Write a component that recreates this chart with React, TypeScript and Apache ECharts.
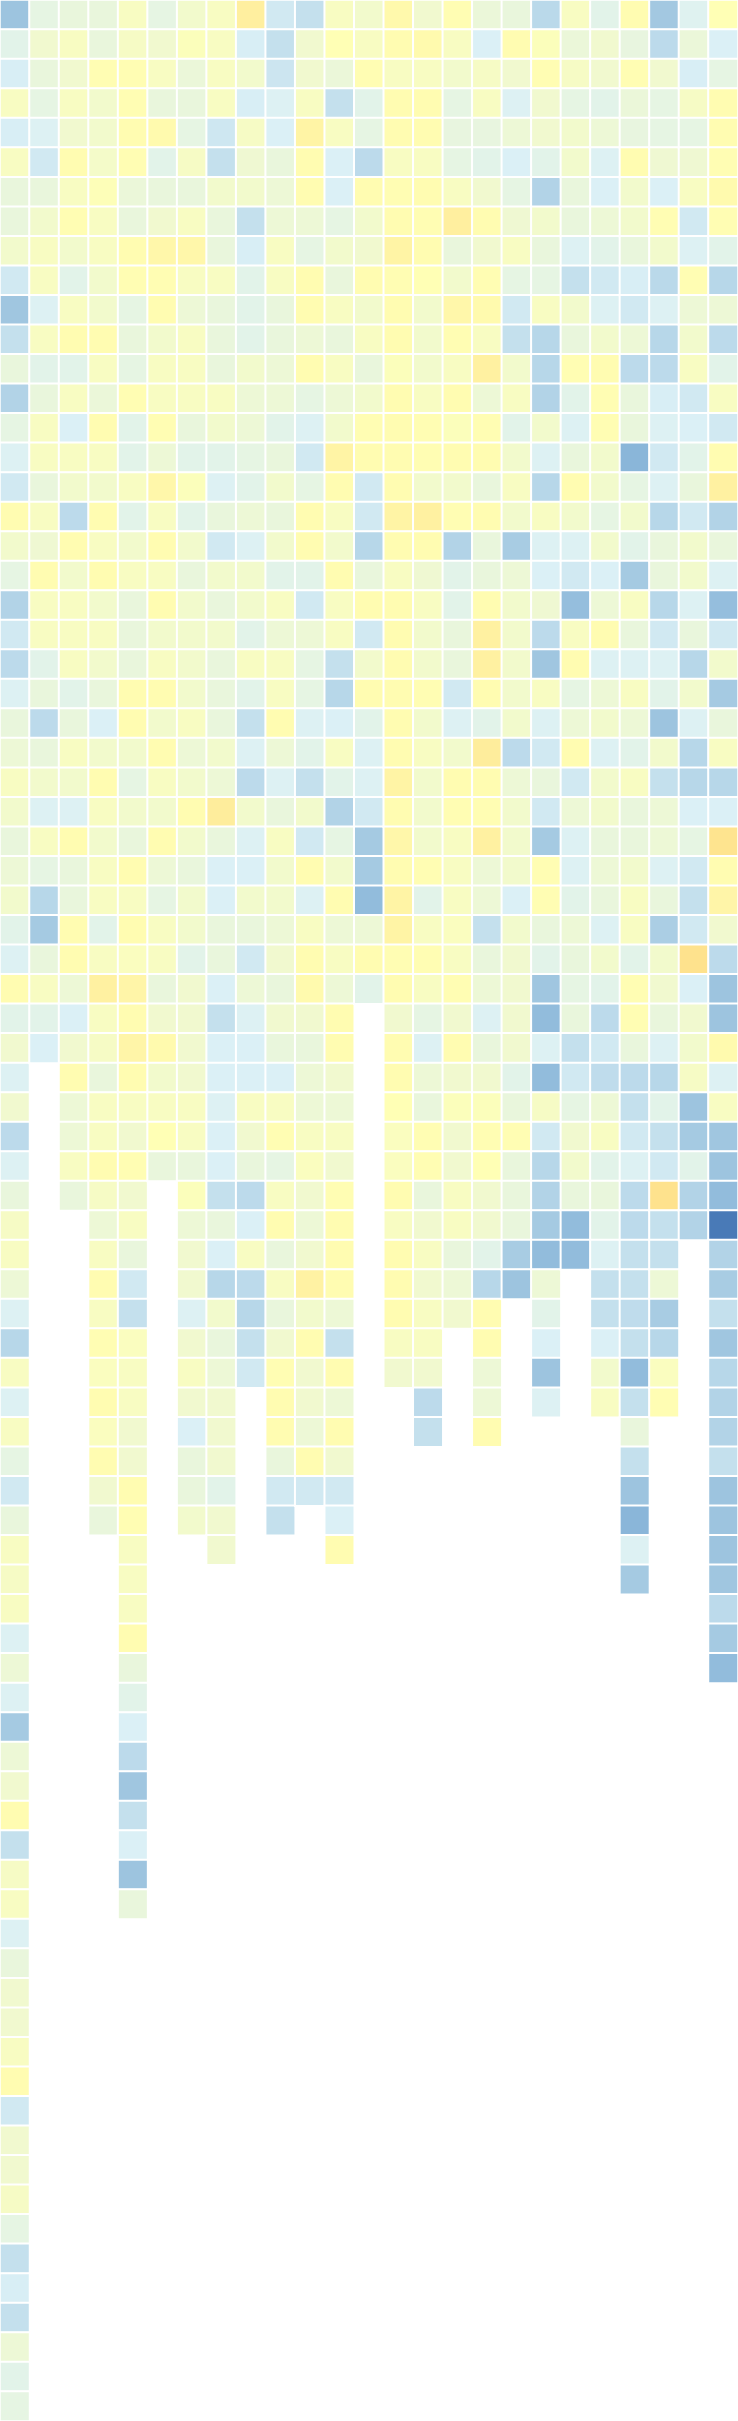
import React, { useEffect, useRef } from "react";
import * as echarts from "echarts";

// Each column lists its cell values from the top row downward.
const col00 = [1.8, 3.2, 2.95, 3.8, 2.95, 3.8, 3.4, 3.4, 3.65, 2.8, 1.85, 2.55, 3.4, 2.2, 3.3, 3.05, 2.8, 4.1, 3.65, 3.3, 2.2, 2.8, 2.4, 3.05, 3.4, 3.5, 3.8, 3.65, 3.4, 3.5, 3.65, 3.2, 3.05, 4.1, 3.2, 3.6, 3.05, 3.6, 2.4, 3.05, 3.4, 3.75, 3.8, 3.5, 3.05, 2.3, 3.8, 3.05, 3.8, 3.3, 2.8, 3.4, 3.8, 3.75, 3.8, 3.05, 3.5, 3.05, 1.95, 3.5, 3.6, 4.1, 2.55, 3.75, 3.8, 3.05, 3.4, 3.6, 3.6, 3.8, 4.1, 2.8, 3.6, 3.6, 3.75, 3.3, 2.55, 2.95, 2.55, 3.5, 3.2, 3.3];
const col01 = [3.3, 3.6, 3.4, 3.3, 3.05, 2.8, 3.4, 3.65, 3.8, 3.8, 3.05, 3.8, 3.2, 3.4, 3.8, 3.8, 3.4, 3.8, 3.55, 4.1, 3.8, 3.8, 3.2, 3.4, 2.4, 3.4, 3.65, 3.05, 3.8, 3.3, 2.3, 1.95, 3.4, 3.8, 3.2, 3.0];
const col02 = [3.4, 3.8, 3.6, 3.8, 3.6, 4.1, 3.8, 4.05, 3.65, 3.2, 3.8, 4.1, 3.2, 3.8, 3.0, 3.8, 3.65, 2.4, 4.1, 3.65, 3.8, 3.8, 3.8, 3.2, 3.4, 3.8, 3.65, 3.05, 4.1, 3.4, 3.4, 4.1, 4.1, 3.5, 3.0, 3.6, 4.1, 3.5, 3.5, 3.8, 3.4];
const col03 = [3.4, 3.4, 4.05, 3.65, 3.65, 3.7, 3.95, 3.8, 3.8, 3.65, 3.65, 4.1, 3.8, 3.45, 4.1, 3.8, 3.65, 4.1, 3.8, 4.1, 3.65, 3.8, 3.65, 3.4, 3.0, 3.65, 4.1, 3.8, 3.65, 3.8, 3.8, 3.2, 3.8, 4.45, 3.8, 3.75, 3.4, 3.8, 3.8, 4.1, 3.75, 3.5, 3.8, 4.1, 3.8, 4.05, 3.85, 4.1, 3.85, 4.1, 3.6, 3.4];
const col04 = [3.8, 3.75, 4.05, 4.05, 4.1, 4.05, 3.45, 3.4, 4.1, 4.05, 3.3, 3.4, 3.3, 4.05, 3.2, 3.2, 3.8, 3.2, 3.65, 3.8, 3.4, 3.4, 3.4, 4.1, 4.1, 3.65, 3.3, 3.65, 3.4, 4.1, 3.8, 4.1, 3.85, 4.3, 4.1, 4.3, 4.1, 3.8, 3.6, 4.05, 3.6, 3.8, 3.4, 2.8, 2.55, 3.85, 3.8, 3.8, 3.6, 3.6, 4.1, 4.05, 3.8, 3.8, 3.8, 4.1, 3.4, 3.2, 3.0, 2.4, 1.85, 2.55, 3.0, 1.8, 3.4];
const col05 = [3.3, 3.6, 3.8, 3.4, 4.15, 3.2, 3.4, 3.6, 4.25, 4.05, 4.1, 3.65, 3.8, 3.8, 4.05, 3.5, 4.25, 3.8, 4.1, 3.8, 4.1, 3.65, 3.8, 4.1, 3.65, 4.1, 3.8, 3.65, 4.1, 3.5, 3.3, 3.8, 3.8, 3.4, 3.6, 4.15, 3.65, 3.8, 4.0, 3.4];
const col06 = [3.65, 3.9, 3.45, 3.4, 3.3, 3.75, 3.4, 3.8, 4.25, 3.8, 3.5, 3.8, 3.8, 3.8, 3.4, 3.2, 3.9, 3.2, 3.65, 3.4, 3.65, 3.65, 3.65, 3.65, 3.8, 3.5, 3.65, 4.1, 3.65, 3.4, 3.65, 3.65, 3.2, 3.6, 3.6, 3.6, 3.6, 3.8, 3.8, 3.4, 3.9, 3.5, 3.6, 3.6, 3.05, 3.6, 3.8, 3.6, 3.0, 3.4, 3.4, 3.65];
const col07 = [3.8, 3.8, 3.8, 3.8, 2.75, 2.55, 3.65, 3.4, 3.4, 3.8, 3.4, 3.4, 3.4, 3.8, 3.65, 3.2, 3.05, 3.4, 2.8, 3.65, 3.4, 3.65, 3.4, 3.4, 3.4, 3.65, 3.5, 4.55, 3.4, 3.0, 3.0, 3.4, 3.4, 3.0, 2.55, 3.0, 3.0, 3.05, 3.0, 3.0, 2.55, 3.4, 3.0, 2.3, 3.65, 3.4, 3.5, 3.6, 3.6, 3.6, 3.2, 3.6, 3.6];
const col08 = [4.5, 2.95, 3.65, 2.95, 3.75, 3.55, 3.65, 2.55, 2.95, 3.2, 3.2, 3.2, 3.65, 3.5, 3.5, 3.3, 3.2, 3.5, 3.05, 3.65, 3.65, 3.2, 3.8, 3.2, 2.55, 3.05, 2.4, 3.65, 3.05, 3.0, 3.65, 3.4, 2.8, 3.5, 3.05, 3.0, 3.0, 3.8, 3.6, 3.4, 2.4, 3.0, 3.8, 2.4, 2.3, 2.55, 2.8];
const col09 = [2.8, 2.55, 2.7, 3.05, 3.0, 3.4, 3.5, 3.5, 3.8, 3.8, 3.4, 3.4, 3.5, 3.5, 3.2, 3.4, 3.65, 3.4, 3.65, 3.2, 3.8, 3.5, 3.8, 3.8, 4.1, 3.5, 3.05, 3.4, 3.8, 3.65, 3.65, 3.5, 3.6, 3.4, 3.6, 3.4, 3.0, 3.8, 4.05, 3.3, 3.8, 4.1, 3.4, 3.8, 3.4, 3.6, 4.05, 4.1, 4.1, 3.4, 2.8, 2.55];
const col10 = [2.55, 3.6, 3.6, 3.8, 4.35, 4.1, 4.1, 3.5, 3.3, 4.1, 4.1, 3.5, 4.1, 3.3, 3.05, 2.8, 3.3, 4.1, 4.1, 3.2, 2.8, 3.5, 3.3, 3.3, 3.05, 3.2, 2.55, 3.65, 2.8, 4.1, 3.05, 3.8, 4.1, 4.15, 3.6, 3.4, 3.5, 3.5, 3.8, 3.85, 3.6, 3.5, 3.6, 4.4, 3.65, 4.1, 3.6, 3.6, 3.5, 4.1, 2.8];
const col11 = [3.8, 4.0, 3.45, 2.55, 3.8, 3.0, 3.0, 3.3, 3.65, 3.4, 3.8, 3.4, 3.8, 3.5, 3.65, 4.35, 4.1, 3.8, 3.65, 4.1, 3.8, 3.8, 2.55, 2.3, 3.0, 3.8, 3.2, 2.2, 3.3, 3.65, 4.1, 3.5, 3.8, 3.5, 4.1, 4.1, 3.6, 3.5, 3.8, 3.6, 4.05, 4.1, 4.1, 4.1, 3.5, 2.55, 4.1, 3.5, 4.1, 3.6, 2.8, 3.0, 4.1];
const col12 = [3.65, 3.8, 4.05, 3.2, 3.3, 2.4, 4.1, 3.65, 3.6, 4.1, 3.65, 3.8, 3.4, 3.65, 4.05, 4.1, 2.8, 2.8, 2.3, 3.4, 4.1, 2.8, 3.65, 4.1, 3.2, 3.05, 3.05, 2.8, 1.95, 1.95, 1.6, 3.5, 4.1, 3.2];
const col13 = [4.2, 4.1, 3.8, 4.1, 4.1, 3.8, 4.05, 4.1, 4.35, 4.05, 4.1, 4.1, 3.9, 4.1, 4.1, 4.1, 4.1, 4.35, 4.1, 3.8, 4.1, 4.1, 4.1, 4.1, 4.1, 4.1, 4.35, 4.1, 4.25, 4.1, 4.35, 4.35, 4.05, 4.1, 3.6, 4.1, 4.1, 4.0, 3.85, 3.85, 4.1, 3.8, 4.1, 4.1, 4.1, 3.8, 3.6];
const col14 = [3.6, 4.15, 3.8, 4.1, 4.1, 3.8, 4.1, 4.05, 4.1, 4.0, 3.65, 3.65, 3.65, 3.8, 4.05, 4.05, 3.65, 4.45, 4.1, 3.55, 3.8, 3.65, 3.65, 4.05, 3.65, 3.8, 3.65, 3.65, 3.65, 4.05, 3.2, 3.8, 4.05, 3.8, 3.3, 3.05, 3.5, 3.4, 4.05, 4.05, 3.4, 3.6, 3.8, 3.6, 3.8, 3.8, 3.6, 2.4, 2.55];
const col15 = [4.05, 3.8, 3.65, 3.3, 3.35, 3.3, 3.8, 4.5, 3.4, 3.65, 4.25, 4.05, 3.8, 4.1, 3.9, 4.1, 3.65, 4.05, 2.2, 3.2, 3.2, 3.4, 3.4, 2.8, 3.05, 3.65, 4.1, 4.05, 3.8, 3.8, 3.8, 3.85, 3.8, 4.05, 3.6, 4.1, 3.6, 3.9, 3.6, 3.6, 3.8, 3.8, 3.4, 3.5, 3.6];
const col16 = [3.45, 3.0, 3.75, 3.8, 3.35, 3.2, 3.6, 4.1, 3.6, 4.05, 4.15, 3.8, 4.45, 3.5, 4.05, 4.1, 3.4, 4.1, 3.4, 3.4, 4.1, 4.45, 4.45, 4.1, 3.2, 4.55, 4.1, 4.05, 4.45, 3.5, 3.5, 2.55, 3.4, 3.5, 3.05, 3.4, 3.6, 3.9, 4.05, 4.0, 3.6, 3.6, 3.2, 2.3, 4.1, 4.1, 3.5, 3.5, 4.1];
const col17 = [3.4, 4.1, 3.6, 3.05, 3.5, 3.0, 3.3, 3.55, 3.8, 3.3, 2.8, 2.55, 3.65, 3.8, 3.2, 3.65, 3.8, 3.65, 2.0, 3.5, 3.65, 3.65, 3.65, 3.65, 3.65, 2.4, 3.5, 3.65, 3.65, 3.65, 3.0, 3.65, 3.6, 3.6, 3.6, 3.6, 3.2, 3.4, 4.05, 3.4, 3.4, 3.4, 2.0, 1.8];
const col18 = [2.35, 3.9, 4.05, 3.6, 3.6, 3.2, 2.2, 3.65, 3.4, 3.3, 3.8, 2.3, 2.3, 2.2, 3.65, 3.05, 2.3, 3.8, 3.05, 3.0, 3.55, 2.4, 1.85, 3.8, 3.05, 2.8, 3.4, 2.8, 1.95, 4.05, 4.05, 3.4, 3.2, 1.85, 1.6, 3.05, 1.6, 3.75, 2.8, 2.3, 2.2, 1.95, 1.6, 3.5, 3.2, 3.0, 1.8, 3.05];
const col19 = [3.8, 3.45, 3.75, 3.3, 3.65, 3.65, 3.4, 3.4, 3.05, 2.55, 3.65, 3.4, 4.05, 3.2, 3.05, 3.4, 4.1, 3.65, 3.05, 2.8, 1.65, 3.8, 4.1, 3.3, 3.5, 4.1, 2.8, 3.5, 3.05, 3.05, 3.2, 3.5, 3.4, 3.3, 3.4, 2.55, 2.8, 3.3, 3.6, 3.65, 3.4, 1.6, 1.6];
const col20 = [3.2, 3.6, 3.6, 3.2, 3.5, 3.05, 3.0, 3.5, 3.2, 2.8, 3.05, 3.65, 4.1, 4.05, 4.05, 3.65, 3.65, 3.3, 3.65, 3.0, 3.5, 4.1, 3.05, 3.5, 3.65, 3.05, 3.65, 3.65, 3.4, 3.5, 3.4, 3.05, 3.65, 3.2, 2.4, 2.8, 2.45, 3.5, 3.8, 3.2, 3.4, 3.2, 3.05, 2.55, 2.55, 3.0, 3.65, 3.8];
const col21 = [4.1, 3.35, 4.05, 3.45, 3.35, 4.1, 3.65, 3.65, 3.4, 2.95, 2.8, 3.5, 2.4, 3.4, 3.4, 1.45, 3.3, 3.65, 3.2, 1.95, 3.8, 3.4, 3.05, 3.8, 3.5, 3.2, 3.8, 3.4, 3.4, 3.65, 3.8, 3.8, 3.2, 4.05, 4.05, 3.4, 2.4, 2.55, 2.8, 3.05, 2.4, 2.4, 2.55, 2.55, 2.45, 2.55, 1.6, 2.55, 3.4, 2.55, 1.8, 1.45, 3.05, 1.95];
const col22 = [1.9, 2.4, 3.6, 3.3, 3.3, 3.55, 3.0, 4.05, 3.65, 2.35, 3.05, 2.3, 2.4, 2.95, 3.05, 2.8, 3.05, 2.3, 3.4, 3.4, 2.3, 2.8, 3.05, 3.2, 1.8, 3.65, 2.55, 3.5, 3.5, 3.05, 3.4, 2.05, 3.65, 3.6, 3.4, 3.05, 2.3, 3.2, 2.55, 2.8, 4.9, 2.55, 2.55, 3.5, 2.0, 2.3, 3.85, 4.05];
const col23 = [3.1, 3.45, 2.95, 3.75, 3.3, 3.55, 3.8, 2.8, 3.05, 4.05, 3.5, 3.65, 3.8, 2.8, 3.0, 3.2, 3.4, 2.8, 3.65, 3.65, 3.05, 3.4, 2.3, 3.65, 3.05, 2.3, 2.3, 3.0, 3.3, 2.8, 2.55, 2.8, 4.9, 3.0, 3.6, 3.65, 3.75, 1.8, 1.95, 3.2, 2.2, 2.2];
const col24 = [4.0, 3.0, 3.3, 4.1, 4.1, 4.05, 4.15, 4.05, 3.2, 2.3, 3.5, 2.4, 3.2, 3.8, 2.8, 4.1, 4.45, 2.2, 3.4, 3.05, 1.65, 2.8, 3.65, 1.95, 3.4, 3.8, 2.3, 3.0, 4.85, 4.1, 4.3, 3.6, 2.4, 1.8, 1.8, 4.15, 3.05, 3.8, 1.85, 1.8, 1.6, 0.1, 2.2, 2.0, 2.55, 1.85, 2.3, 2.2, 2.2, 2.55, 1.8, 1.8, 1.8, 1.85, 2.4, 1.95, 1.6];

const columns = [
  col00, col01, col02, col03, col04, col05, col06, col07, col08, col09,
  col10, col11, col12, col13, col14, col15, col16, col17, col18, col19,
  col20, col21, col22, col23, col24,
];

const ROW_COUNT = 82;
const xCategories = columns.map((_, i) => `C${i + 1}`);
const yCategories = Array.from({ length: ROW_COUNT }, (_, i) => `R${i + 1}`);

const palette = ["#4575b4", "#71a4d1", "#a8cce3", "#dbf0f6", "#ffffb5", "#fedf88"];
const valueMin = 0;
const valueMax = 5;

export default function App() {
  const ref = useRef<HTMLDivElement>(null);

  useEffect(() => {
    if (!ref.current) return;
    const chart = echarts.init(ref.current, undefined, { renderer: "svg" });
    const data: number[][] = [];
    columns.forEach((col, x) => {
      col.forEach((v, y) => data.push([x, y, v]));
    });
    chart.setOption({
      animation: false,
      grid: { left: 0, right: 0, top: 0, bottom: 0, containLabel: false },
      xAxis: {
        type: "category",
        data: xCategories,
        show: false,
        splitArea: { show: false },
      },
      yAxis: {
        type: "category",
        data: yCategories,
        inverse: true,
        show: false,
        splitArea: { show: false },
      },
      visualMap: {
        show: false,
        type: "continuous",
        min: valueMin,
        max: valueMax,
        dimension: 2,
        inRange: { color: palette },
      },
      series: [
        {
          type: "heatmap",
          data,
          progressive: 0,
          itemStyle: { borderColor: "#ffffff", borderWidth: 2 },
          emphasis: { disabled: true },
        },
      ],
    });
    return () => chart.dispose();
  }, []);

  return (
    <div
      ref={ref}
      style={{ position: "absolute", left: 0, top: 0, width: 738, height: 2421 }}
    />
  );
}
